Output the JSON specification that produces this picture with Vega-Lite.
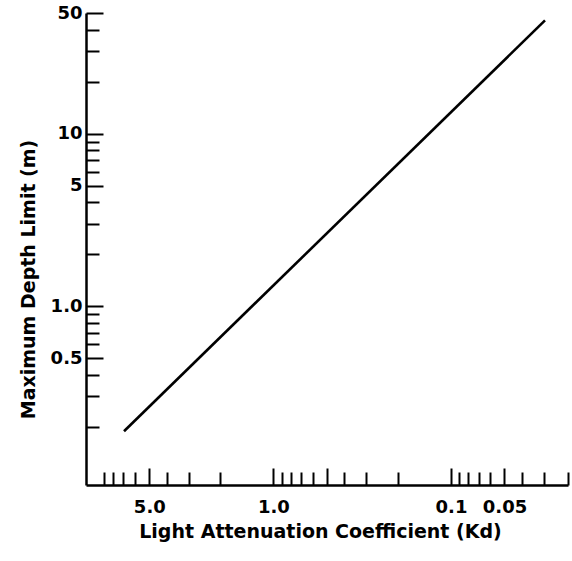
{
  "$schema": "https://vega.github.io/schema/vega-lite/v6.json",
  "width": 482,
  "height": 472,
  "autosize": {"type": "none"},
  "padding": {"left": 86, "top": 13, "right": 4, "bottom": 76},
  "background": "white",
  "config": {
    "view": {"stroke": null},
    "axis": {
      "domainColor": "black",
      "tickColor": "black",
      "labelColor": "black",
      "titleColor": "black",
      "labelFont": "DejaVu Sans",
      "titleFont": "DejaVu Sans",
      "labelFontSize": 18,
      "labelFontWeight": "bold",
      "titleFontSize": 19,
      "titleFontWeight": "bold",
      "grid": false
    }
  },
  "data": {
    "values": [
      {"kd": 6.94, "depth": 0.1885},
      {"kd": 0.02956, "depth": 45.3}
    ]
  },
  "resolve": {"axis": {"x": "independent", "y": "independent"}},
  "layer": [
    {
      "mark": {"type": "line", "color": "black", "strokeWidth": 2.6},
      "encoding": {
        "x": {
          "field": "kd",
          "type": "quantitative",
          "scale": {"type": "log", "domain": [0.02194, 11.36], "reverse": true, "nice": false},
          "axis": {
            "orient": "bottom",
            "title": "Light Attenuation Coefficient (Kd)",
            "values": [5, 1, 0.5, 0.1, 0.05],
            "labelExpr": "datum.value == 5 ? '5.0' : datum.value == 1 ? '1.0' : datum.value == 0.1 ? '0.1' : datum.value == 0.05 ? '0.05' : ''",
            "tickSize": -17,
            "tickWidth": 2,
            "domainWidth": 2.5,
            "labelBaseline": "alphabetic",
            "labelPadding": 44,
            "labelFlush": false,
            "labelOverlap": false,
            "titleBaseline": "alphabetic",
            "titleAnchor": "middle",
            "titleX": 234,
            "titleY": 52
          }
        },
        "y": {
          "field": "depth",
          "type": "quantitative",
          "scale": {"type": "log", "domain": [0.092, 50], "nice": false},
          "axis": {
            "orient": "left",
            "title": "Maximum Depth Limit (m)",
            "values": [50, 10, 5, 1, 0.5],
            "labelExpr": "datum.value == 50 ? '50' : datum.value == 10 ? '10' : datum.value == 5 ? '5' : datum.value == 1 ? '1.0' : '0.5'",
            "tickSize": -17,
            "tickWidth": 2,
            "domainWidth": 2.5,
            "labelPadding": 21,
            "labelFlush": false,
            "labelOverlap": false,
            "titleAngle": -90,
            "titleBaseline": "alphabetic",
            "titleAnchor": "middle",
            "titleX": -52,
            "titleY": 266
          }
        }
      }
    },
    {
      "mark": {"type": "line", "color": "black", "strokeOpacity": 0},
      "encoding": {
        "x": {
          "field": "kd",
          "type": "quantitative",
          "scale": {"type": "log", "domain": [0.02194, 11.36], "reverse": true, "nice": false},
          "axis": {
            "orient": "bottom",
            "title": null,
            "labels": false,
            "domain": false,
            "values": [9, 8, 7, 6, 4, 3, 2, 0.9, 0.8, 0.7, 0.6, 0.4, 0.3, 0.2, 0.09, 0.08, 0.07, 0.06, 0.04, 0.03, 0.022],
            "tickSize": -13,
            "tickWidth": 2
          }
        },
        "y": {
          "field": "depth",
          "type": "quantitative",
          "scale": {"type": "log", "domain": [0.092, 50], "nice": false},
          "axis": {
            "orient": "left",
            "title": null,
            "labels": false,
            "domain": false,
            "values": [40, 30, 20, 9, 8, 7, 6, 4, 3, 2, 0.9, 0.8, 0.7, 0.6, 0.4, 0.3, 0.2],
            "tickSize": -13,
            "tickWidth": 2
          }
        }
      }
    }
  ]
}
